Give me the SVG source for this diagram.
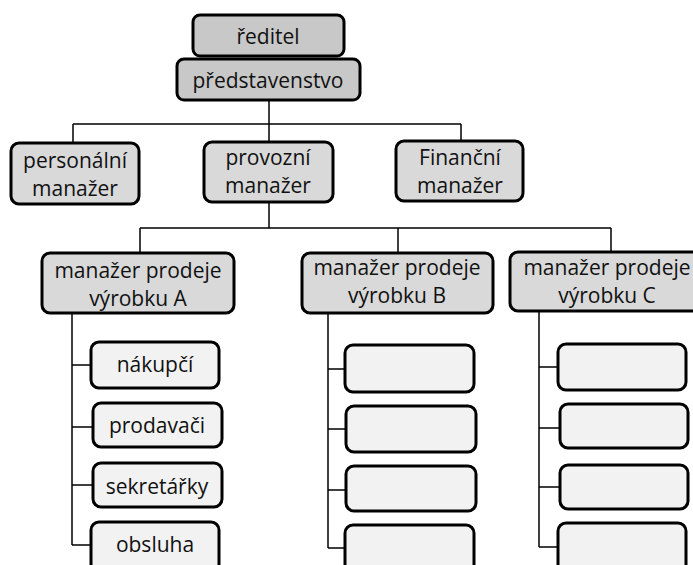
<svg xmlns="http://www.w3.org/2000/svg" width="693" height="565" viewBox="0 0 693 565">
<style>
.b{stroke:#000;stroke-width:3}
.d{fill:#c8c8c8}
.m{fill:#d9d9d9}
.l{fill:#f2f2f2}
text{font-family:"Open Sans","Liberation Sans",sans-serif;font-size:21px;fill:#111;text-anchor:middle}
.c{fill:none;stroke:#000;stroke-width:1.5}
</style>
<rect width="693" height="565" fill="#fff"/>
<g id="connectors" class="c">
<path d="M269 100V124M73 124H461M73 124V143M269 124V142M461 124V141"/>
<path d="M269 202V228M140 228H611M140 228V253M398 228V253M611 228V252"/>
<path d="M72 313V545M72 365H91M72 427H93M72 485H93M72 545H91"/>
<path d="M328 313V548M328 369H345M328 429H346M328 490H346M328 548H345"/>
<path d="M539 311V547M539 367H558M539 428H560M539 487H560M539 547H558"/>
</g>
<g id="reditel"><rect class="b d" x="193" y="15" width="151" height="41" rx="7"/><text x="268" y="44">ředitel</text></g>
<g id="predstavenstvo"><rect class="b d" x="177" y="59" width="183" height="41" rx="7"/><text x="268" y="88">představenstvo</text></g>
<g id="personalni"><rect class="b m" x="11" y="143" width="128" height="61" rx="8"/><text x="75" y="168">personální</text><text x="75" y="196">manažer</text></g>
<g id="provozni"><rect class="b m" x="204" y="142" width="129" height="60" rx="8"/><text x="268" y="165">provozní</text><text x="268" y="193">manažer</text></g>
<g id="financni"><rect class="b m" x="396" y="141" width="127" height="60" rx="8"/><text x="460" y="165">Finanční</text><text x="460" y="193">manažer</text></g>
<g id="manazerA"><rect class="b m" x="42" y="253" width="192" height="60" rx="8"/><text x="138" y="278">manažer prodeje</text><text x="138" y="306">výrobku A</text></g>
<g id="manazerB"><rect class="b m" x="302" y="253" width="191" height="60" rx="8"/><text x="397" y="275">manažer prodeje</text><text x="397" y="303">výrobku B</text></g>
<g id="manazerC"><rect class="b m" x="510" y="252" width="194" height="59" rx="8"/><text x="607" y="275">manažer prodeje</text><text x="607" y="303">výrobku C</text></g>
<g id="nakupci"><rect class="b l" x="91" y="342" width="128" height="46" rx="8"/><text x="155" y="372">nákupčí</text></g>
<g id="prodavaci"><rect class="b l" x="93" y="403" width="129" height="44" rx="8"/><text x="157" y="433">prodavači</text></g>
<g id="sekretarky"><rect class="b l" x="93" y="463" width="129" height="44" rx="8"/><text x="157" y="494">sekretářky</text></g>
<g id="obsluha"><rect class="b l" x="91" y="522" width="128" height="50" rx="8"/><text x="155" y="552">obsluha</text></g>
<g id="b1"><rect class="b l" x="345" y="345" width="129" height="47" rx="8"/></g>
<g id="b2"><rect class="b l" x="346" y="406" width="130" height="46" rx="8"/></g>
<g id="b3"><rect class="b l" x="346" y="466" width="130" height="45" rx="8"/></g>
<g id="b4"><rect class="b l" x="345" y="525" width="129" height="50" rx="8"/></g>
<g id="c1"><rect class="b l" x="558" y="344" width="128" height="46" rx="8"/></g>
<g id="c2"><rect class="b l" x="560" y="404" width="128" height="44" rx="8"/></g>
<g id="c3"><rect class="b l" x="560" y="465" width="128" height="44" rx="8"/></g>
<g id="c4"><rect class="b l" x="558" y="523" width="128" height="50" rx="8"/></g>
</svg>
